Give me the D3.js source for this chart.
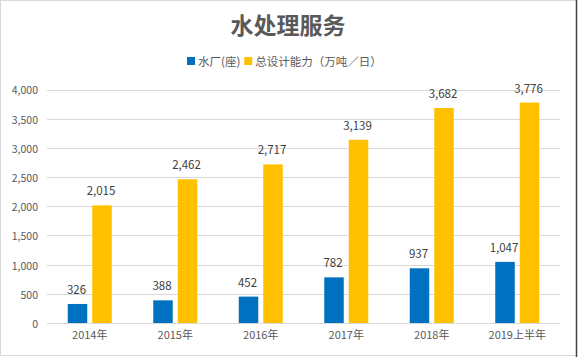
<!DOCTYPE html>
<html><head><meta charset="utf-8">
<script src="https://cdn.jsdelivr.net/npm/d3@7"></script>
<style>
html,body{margin:0;padding:0;background:#fff;}
svg{display:block;font-family:"Noto Sans CJK SC","Noto Sans",sans-serif;}
</style></head>
<body><svg id="c" width="580" height="357"></svg>
<script>
const categories = ["2014年","2015年","2016年","2017年","2018年","2019上半年"];
const plants = [326,388,452,782,937,1047];
const capacity = [2015,2462,2717,3139,3682,3776];
const seriesNames = ["水厂(座)","总设计能力（万吨／日）"];
const yTicks = [0,500,1000,1500,2000,2500,3000,3500,4000];
const colors = ["#0070C0","#FFC000"];

const svg = d3.select("#c");
const W=580,H=357;
svg.append("rect").attr("x",0.5).attr("y",0.5).attr("width",W-4).attr("height",H-2)
  .attr("fill","#fff").attr("stroke","#d9d9d9");
svg.append("line").attr("x1",576.5).attr("x2",576.5).attr("y1",0).attr("y2",H).attr("stroke","#444").attr("stroke-width",1.5);

const x = d3.scaleBand().domain(categories).range([47,560]);
const y = d3.scaleLinear().domain([0,4000]).range([323,89.5]);
const fmt = d3.format(",");

// gridlines
svg.append("g").selectAll("line").data(yTicks).join("line")
  .attr("x1",47).attr("x2",560)
  .attr("y1",d=>Math.round(y(d))+0.5).attr("y2",d=>Math.round(y(d))+0.5)
  .attr("stroke","#d9d9d9").attr("stroke-width",1);

// y axis labels
const yAxis = d3.axisLeft(y).tickValues(yTicks).tickFormat(fmt).tickSize(0).tickPadding(9);
const ga = svg.append("g").attr("transform","translate(47,1)").call(yAxis);
ga.select(".domain").remove();
ga.selectAll("text").attr("fill","#595959").style("font-size","10.5px").style("font-family","'Noto Sans CJK SC',sans-serif");

// x axis labels
const xAxis = d3.axisBottom(x).tickSize(0).tickPadding(8);
const gx = svg.append("g").attr("transform","translate(0,323)").call(xAxis);
gx.select(".domain").remove();
gx.selectAll("text").attr("fill","#595959").style("font-size","11px").style("font-family","'Noto Sans CJK SC',sans-serif");

const bw = 19.5, gap = 5;
const series = [plants, capacity];
series.forEach((vals,si)=>{
  const off = si===0 ? -(bw+gap/2) : gap/2;
  const g = svg.append("g");
  g.selectAll("rect").data(vals).join("rect")
    .attr("x",(d,i)=>x(categories[i])+x.bandwidth()/2+off)
    .attr("width",bw)
    .attr("y",d=>y(d)).attr("height",d=>y(0)-y(d))
    .attr("fill",colors[si]);
  g.selectAll("text").data(vals).join("text")
    .attr("x",(d,i)=>x(categories[i])+x.bandwidth()/2+off+bw/2-1)
    .attr("y",d=>y(d)-10)
    .attr("text-anchor","middle")
    .attr("fill","#404040")
    .style("font-size","11.5px")
    .style("font-family","'Noto Sans CJK SC',sans-serif")
    .text(d=>fmt(d));
});

// title
svg.append("text").attr("x",288).attr("y",34).attr("text-anchor","middle")
  .attr("fill","#595959").style("font-size","23px").style("font-weight","bold")
  .text("水处理服务");

// legend
const lg = svg.append("g");
let lx = 187;
seriesNames.forEach((n,i)=>{
  lg.append("rect").attr("x",lx).attr("y",57).attr("width",8).attr("height",8).attr("fill",colors[i]);
  const t = lg.append("text").attr("x",lx+11).attr("y",65.5).attr("fill","#595959")
    .style("font-size","11.5px").text(n);
  lx += 11 + t.node().getComputedTextLength() + 4;
});
</script></body></html>
